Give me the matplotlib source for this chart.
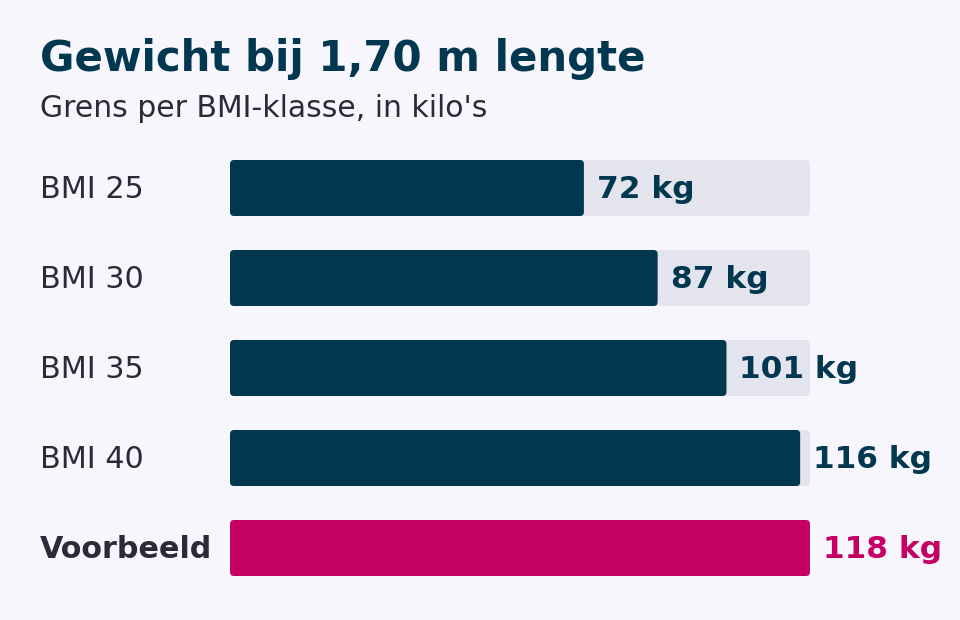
import matplotlib.pyplot as plt
from matplotlib.patches import FancyBboxPatch
from matplotlib.transforms import blended_transform_factory

categories = ["BMI 25", "BMI 30", "BMI 35", "BMI 40", "Voorbeeld"]
values = [72, 87, 101, 116, 118]
labels = ["72 kg", "87 kg", "101 kg", "116 kg", "118 kg"]
highlight = [False, False, False, False, True]
track_max = 118

BG = "#f7f6fd"
NAVY = "#023750"
PINK = "#c40064"
TRACK = "#e4e4ee"
TEXT = "#2a2a38"

W, H = 960, 620
fig = plt.figure(figsize=(9.6, 6.2), dpi=100, facecolor=BG)

# axes placed in pixels: bars run from x=230 to x=810
left, right = 230, 810
top, bottom = 143, 593
ax = fig.add_axes([left / W, 1 - bottom / H, (right - left) / W, (bottom - top) / H])
ax.set_facecolor(BG)
ax.set_xlim(0, track_max)
ax.set_ylim(len(categories) - 0.5, -0.5)
ax.axis("off")

bar_h = 56 / 90
px_x = track_max / (right - left)
px_y = 1 / 90
radius = 4 * px_x
aspect = px_y / px_x


def rounded_bar(y, width, color, z):
    p = FancyBboxPatch((0, y - bar_h / 2), width, bar_h,
                       boxstyle=f"round,pad=0,rounding_size={radius}",
                       mutation_aspect=aspect, facecolor=color,
                       edgecolor="none", zorder=z)
    ax.add_patch(p)


trans = blended_transform_factory(fig.transFigure, ax.transData)
for i, (cat, v, lab, hl) in enumerate(zip(categories, values, labels, highlight)):
    if not hl:
        rounded_bar(i, track_max, TRACK, 1)
    rounded_bar(i, v, PINK if hl else NAVY, 2)
    ax.annotate(lab, xy=(v, i), xytext=(9.4, 1.4), textcoords="offset points",
                ha="left", va="center_baseline", fontsize=22.5, fontweight="bold",
                color=PINK if hl else NAVY, zorder=3)
    ax.annotate(cat, xy=(40 / W, i), xycoords=trans, xytext=(0, 1.4),
                textcoords="offset points", ha="left", va="center_baseline",
                fontsize=21.7, color=TEXT, fontweight="bold" if hl else "normal")

fig.text(40 / W, 1 - 55 / H, "Gewicht bij 1,70 m lengte", fontsize=30.2,
         fontweight="bold", color=NAVY, ha="left", va="center_baseline")
fig.text(40 / W, 1 - 105.5 / H, "Grens per BMI-klasse, in kilo's", fontsize=21.5,
         color=TEXT, ha="left", va="center_baseline")

fig.savefig("out.png", dpi=100, facecolor=BG)
